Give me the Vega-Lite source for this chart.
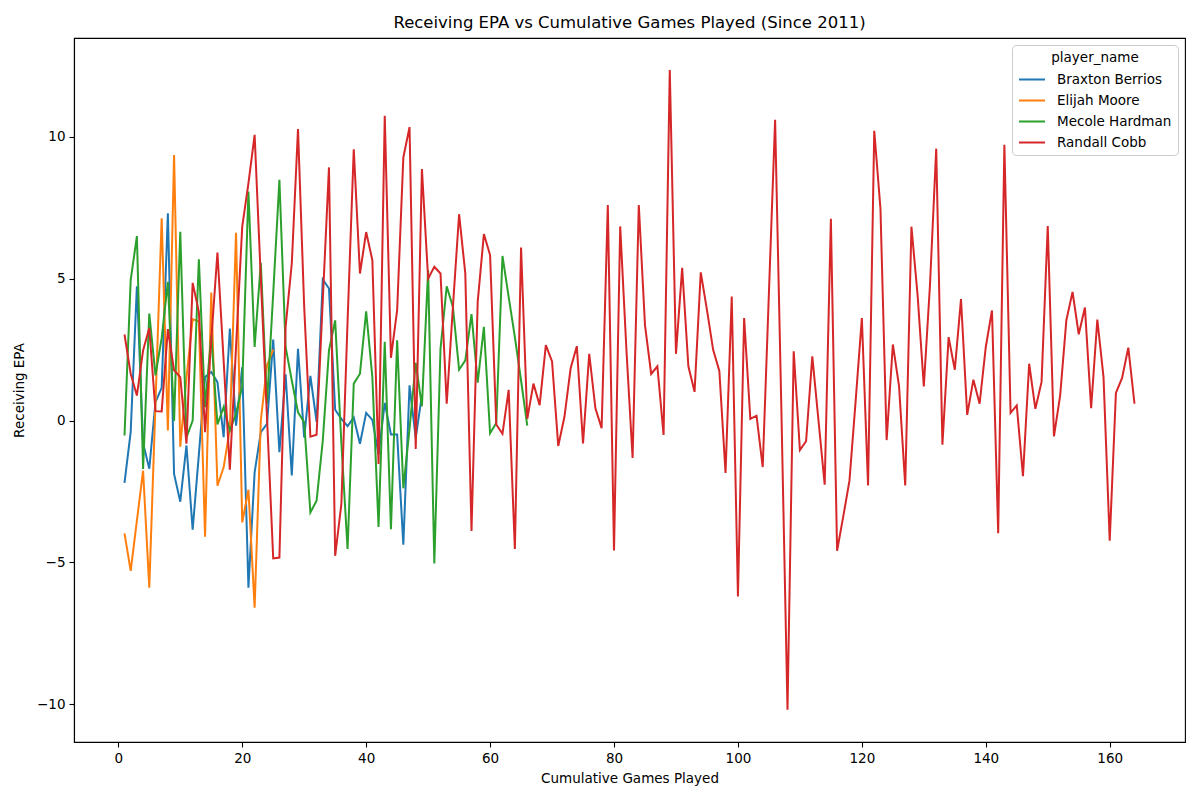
{
  "$schema": "https://vega.github.io/schema/vega-lite/v6.json",
  "autosize": {"type": "none"},
  "width": 1111,
  "height": 704,
  "padding": {"left": 74, "top": 38, "right": 15, "bottom": 58},
  "background": "white",
  "title": {
    "text": "Receiving EPA vs Cumulative Games Played (Since 2011)",
    "font": "DejaVu Sans",
    "fontSize": 16.5,
    "fontWeight": "normal",
    "color": "black",
    "anchor": "middle",
    "offset": 7
  },
  "config": {
    "view": {"stroke": "black", "strokeWidth": 1.1},
    "axis": {
      "labelFont": "DejaVu Sans",
      "labelFontSize": 13.5,
      "labelColor": "black",
      "titleFont": "DejaVu Sans",
      "titleFontSize": 13.5,
      "titleFontWeight": "normal",
      "titleColor": "black",
      "tickColor": "black",
      "tickSize": 5,
      "tickWidth": 1.1,
      "domainColor": "black",
      "domainWidth": 1.1,
      "grid": false,
      "labelPadding": 4
    }
  },
  "data": {
    "values": [
      {"player_name": "Braxton Berrios", "game": 1, "epa": -2.2},
      {"player_name": "Braxton Berrios", "game": 2, "epa": -0.4},
      {"player_name": "Braxton Berrios", "game": 3, "epa": 4.73},
      {"player_name": "Braxton Berrios", "game": 4, "epa": -0.8},
      {"player_name": "Braxton Berrios", "game": 5, "epa": -1.7},
      {"player_name": "Braxton Berrios", "game": 6, "epa": 0.65},
      {"player_name": "Braxton Berrios", "game": 7, "epa": 1.15},
      {"player_name": "Braxton Berrios", "game": 8, "epa": 7.3},
      {"player_name": "Braxton Berrios", "game": 9, "epa": -1.88},
      {"player_name": "Braxton Berrios", "game": 10, "epa": -2.86},
      {"player_name": "Braxton Berrios", "game": 11, "epa": -0.88},
      {"player_name": "Braxton Berrios", "game": 12, "epa": -3.85},
      {"player_name": "Braxton Berrios", "game": 13, "epa": -1.2},
      {"player_name": "Braxton Berrios", "game": 14, "epa": 1.53},
      {"player_name": "Braxton Berrios", "game": 15, "epa": 1.71},
      {"player_name": "Braxton Berrios", "game": 16, "epa": 1.35},
      {"player_name": "Braxton Berrios", "game": 17, "epa": -0.59},
      {"player_name": "Braxton Berrios", "game": 18, "epa": 3.24},
      {"player_name": "Braxton Berrios", "game": 19, "epa": -0.18},
      {"player_name": "Braxton Berrios", "game": 20, "epa": 1.88},
      {"player_name": "Braxton Berrios", "game": 21, "epa": -5.89},
      {"player_name": "Braxton Berrios", "game": 22, "epa": -1.83},
      {"player_name": "Braxton Berrios", "game": 23, "epa": -0.41},
      {"player_name": "Braxton Berrios", "game": 24, "epa": -0.12},
      {"player_name": "Braxton Berrios", "game": 25, "epa": 2.85},
      {"player_name": "Braxton Berrios", "game": 26, "epa": -1.12},
      {"player_name": "Braxton Berrios", "game": 27, "epa": 1.63},
      {"player_name": "Braxton Berrios", "game": 28, "epa": -1.94},
      {"player_name": "Braxton Berrios", "game": 29, "epa": 2.53},
      {"player_name": "Braxton Berrios", "game": 30, "epa": -0.6},
      {"player_name": "Braxton Berrios", "game": 31, "epa": 1.57},
      {"player_name": "Braxton Berrios", "game": 32, "epa": -0.05},
      {"player_name": "Braxton Berrios", "game": 33, "epa": 4.97},
      {"player_name": "Braxton Berrios", "game": 34, "epa": 4.65},
      {"player_name": "Braxton Berrios", "game": 35, "epa": 0.38},
      {"player_name": "Braxton Berrios", "game": 36, "epa": 0.06},
      {"player_name": "Braxton Berrios", "game": 37, "epa": -0.2},
      {"player_name": "Braxton Berrios", "game": 38, "epa": 0.1},
      {"player_name": "Braxton Berrios", "game": 39, "epa": -0.82},
      {"player_name": "Braxton Berrios", "game": 40, "epa": 0.27},
      {"player_name": "Braxton Berrios", "game": 41, "epa": 0.02},
      {"player_name": "Braxton Berrios", "game": 42, "epa": -1.2},
      {"player_name": "Braxton Berrios", "game": 43, "epa": 0.62},
      {"player_name": "Braxton Berrios", "game": 44, "epa": -0.49},
      {"player_name": "Braxton Berrios", "game": 45, "epa": -0.49},
      {"player_name": "Braxton Berrios", "game": 46, "epa": -4.38},
      {"player_name": "Braxton Berrios", "game": 47, "epa": 1.24},
      {"player_name": "Braxton Berrios", "game": 48, "epa": -0.62},
      {"player_name": "Braxton Berrios", "game": 49, "epa": 0.9},
      {"player_name": "Elijah Moore", "game": 1, "epa": -3.98},
      {"player_name": "Elijah Moore", "game": 2, "epa": -5.3},
      {"player_name": "Elijah Moore", "game": 3, "epa": -3.53},
      {"player_name": "Elijah Moore", "game": 4, "epa": -1.77},
      {"player_name": "Elijah Moore", "game": 5, "epa": -5.89},
      {"player_name": "Elijah Moore", "game": 6, "epa": 0.6},
      {"player_name": "Elijah Moore", "game": 7, "epa": 7.13},
      {"player_name": "Elijah Moore", "game": 8, "epa": -0.35},
      {"player_name": "Elijah Moore", "game": 9, "epa": 9.36},
      {"player_name": "Elijah Moore", "game": 10, "epa": -0.92},
      {"player_name": "Elijah Moore", "game": 11, "epa": 1.5},
      {"player_name": "Elijah Moore", "game": 12, "epa": 3.57},
      {"player_name": "Elijah Moore", "game": 13, "epa": 3.5},
      {"player_name": "Elijah Moore", "game": 14, "epa": -4.1},
      {"player_name": "Elijah Moore", "game": 15, "epa": 4.51},
      {"player_name": "Elijah Moore", "game": 16, "epa": -2.3},
      {"player_name": "Elijah Moore", "game": 17, "epa": -1.65},
      {"player_name": "Elijah Moore", "game": 18, "epa": -0.3},
      {"player_name": "Elijah Moore", "game": 19, "epa": 6.62},
      {"player_name": "Elijah Moore", "game": 20, "epa": -3.59},
      {"player_name": "Elijah Moore", "game": 21, "epa": -2.44},
      {"player_name": "Elijah Moore", "game": 22, "epa": -6.6},
      {"player_name": "Elijah Moore", "game": 23, "epa": 0.0},
      {"player_name": "Elijah Moore", "game": 24, "epa": 1.94},
      {"player_name": "Elijah Moore", "game": 25, "epa": 2.5},
      {"player_name": "Mecole Hardman", "game": 1, "epa": -0.53},
      {"player_name": "Mecole Hardman", "game": 2, "epa": 4.95},
      {"player_name": "Mecole Hardman", "game": 3, "epa": 6.5},
      {"player_name": "Mecole Hardman", "game": 4, "epa": -1.71},
      {"player_name": "Mecole Hardman", "game": 5, "epa": 3.77},
      {"player_name": "Mecole Hardman", "game": 6, "epa": 1.59},
      {"player_name": "Mecole Hardman", "game": 7, "epa": 2.9},
      {"player_name": "Mecole Hardman", "game": 8, "epa": 4.89},
      {"player_name": "Mecole Hardman", "game": 9, "epa": -0.02},
      {"player_name": "Mecole Hardman", "game": 10, "epa": 6.65},
      {"player_name": "Mecole Hardman", "game": 11, "epa": -0.6},
      {"player_name": "Mecole Hardman", "game": 12, "epa": 0.0},
      {"player_name": "Mecole Hardman", "game": 13, "epa": 5.68},
      {"player_name": "Mecole Hardman", "game": 14, "epa": 0.47},
      {"player_name": "Mecole Hardman", "game": 15, "epa": 3.0},
      {"player_name": "Mecole Hardman", "game": 16, "epa": -0.14},
      {"player_name": "Mecole Hardman", "game": 17, "epa": 0.47},
      {"player_name": "Mecole Hardman", "game": 18, "epa": -0.35},
      {"player_name": "Mecole Hardman", "game": 19, "epa": 0.24},
      {"player_name": "Mecole Hardman", "game": 20, "epa": 1.2},
      {"player_name": "Mecole Hardman", "game": 21, "epa": 8.07},
      {"player_name": "Mecole Hardman", "game": 22, "epa": 2.59},
      {"player_name": "Mecole Hardman", "game": 23, "epa": 5.56},
      {"player_name": "Mecole Hardman", "game": 24, "epa": 0.6},
      {"player_name": "Mecole Hardman", "game": 25, "epa": 4.48},
      {"player_name": "Mecole Hardman", "game": 26, "epa": 8.48},
      {"player_name": "Mecole Hardman", "game": 27, "epa": 2.59},
      {"player_name": "Mecole Hardman", "game": 28, "epa": 1.41},
      {"player_name": "Mecole Hardman", "game": 29, "epa": 0.29},
      {"player_name": "Mecole Hardman", "game": 30, "epa": -0.06},
      {"player_name": "Mecole Hardman", "game": 31, "epa": -3.24},
      {"player_name": "Mecole Hardman", "game": 32, "epa": -2.83},
      {"player_name": "Mecole Hardman", "game": 33, "epa": -0.71},
      {"player_name": "Mecole Hardman", "game": 34, "epa": 2.47},
      {"player_name": "Mecole Hardman", "game": 35, "epa": 3.53},
      {"player_name": "Mecole Hardman", "game": 36, "epa": -0.8},
      {"player_name": "Mecole Hardman", "game": 37, "epa": -4.53},
      {"player_name": "Mecole Hardman", "game": 38, "epa": 1.3},
      {"player_name": "Mecole Hardman", "game": 39, "epa": 1.65},
      {"player_name": "Mecole Hardman", "game": 40, "epa": 3.85},
      {"player_name": "Mecole Hardman", "game": 41, "epa": 1.53},
      {"player_name": "Mecole Hardman", "game": 42, "epa": -3.75},
      {"player_name": "Mecole Hardman", "game": 43, "epa": 2.77},
      {"player_name": "Mecole Hardman", "game": 44, "epa": -3.83},
      {"player_name": "Mecole Hardman", "game": 45, "epa": 2.83},
      {"player_name": "Mecole Hardman", "game": 46, "epa": -2.39},
      {"player_name": "Mecole Hardman", "game": 47, "epa": -0.3},
      {"player_name": "Mecole Hardman", "game": 48, "epa": 2.03},
      {"player_name": "Mecole Hardman", "game": 49, "epa": 0.5},
      {"player_name": "Mecole Hardman", "game": 50, "epa": 5.3},
      {"player_name": "Mecole Hardman", "game": 51, "epa": -5.04},
      {"player_name": "Mecole Hardman", "game": 52, "epa": 2.53},
      {"player_name": "Mecole Hardman", "game": 53, "epa": 4.73},
      {"player_name": "Mecole Hardman", "game": 54, "epa": 4.0},
      {"player_name": "Mecole Hardman", "game": 55, "epa": 1.79},
      {"player_name": "Mecole Hardman", "game": 56, "epa": 2.12},
      {"player_name": "Mecole Hardman", "game": 57, "epa": 3.75},
      {"player_name": "Mecole Hardman", "game": 58, "epa": 1.33},
      {"player_name": "Mecole Hardman", "game": 59, "epa": 3.3},
      {"player_name": "Mecole Hardman", "game": 60, "epa": -0.45},
      {"player_name": "Mecole Hardman", "game": 61, "epa": -0.09},
      {"player_name": "Mecole Hardman", "game": 62, "epa": 5.8},
      {"player_name": "Mecole Hardman", "game": 63, "epa": 4.36},
      {"player_name": "Mecole Hardman", "game": 64, "epa": 2.94},
      {"player_name": "Mecole Hardman", "game": 65, "epa": 1.41},
      {"player_name": "Mecole Hardman", "game": 66, "epa": -0.18},
      {"player_name": "Randall Cobb", "game": 1, "epa": 3.03},
      {"player_name": "Randall Cobb", "game": 2, "epa": 1.65},
      {"player_name": "Randall Cobb", "game": 3, "epa": 0.88},
      {"player_name": "Randall Cobb", "game": 4, "epa": 2.47},
      {"player_name": "Randall Cobb", "game": 5, "epa": 3.26},
      {"player_name": "Randall Cobb", "game": 6, "epa": 0.33},
      {"player_name": "Randall Cobb", "game": 7, "epa": 0.32},
      {"player_name": "Randall Cobb", "game": 8, "epa": 3.22},
      {"player_name": "Randall Cobb", "game": 9, "epa": 1.77},
      {"player_name": "Randall Cobb", "game": 10, "epa": 1.53},
      {"player_name": "Randall Cobb", "game": 11, "epa": -0.82},
      {"player_name": "Randall Cobb", "game": 12, "epa": 4.85},
      {"player_name": "Randall Cobb", "game": 13, "epa": 3.83},
      {"player_name": "Randall Cobb", "game": 14, "epa": -0.41},
      {"player_name": "Randall Cobb", "game": 15, "epa": 2.83},
      {"player_name": "Randall Cobb", "game": 16, "epa": 5.92},
      {"player_name": "Randall Cobb", "game": 17, "epa": 2.1},
      {"player_name": "Randall Cobb", "game": 18, "epa": -1.73},
      {"player_name": "Randall Cobb", "game": 19, "epa": 2.6},
      {"player_name": "Randall Cobb", "game": 20, "epa": 6.83},
      {"player_name": "Randall Cobb", "game": 21, "epa": 8.36},
      {"player_name": "Randall Cobb", "game": 22, "epa": 10.07},
      {"player_name": "Randall Cobb", "game": 23, "epa": 5.0},
      {"player_name": "Randall Cobb", "game": 24, "epa": 0.1},
      {"player_name": "Randall Cobb", "game": 25, "epa": -4.86},
      {"player_name": "Randall Cobb", "game": 26, "epa": -4.83},
      {"player_name": "Randall Cobb", "game": 27, "epa": 3.3},
      {"player_name": "Randall Cobb", "game": 28, "epa": 5.54},
      {"player_name": "Randall Cobb", "game": 29, "epa": 10.27},
      {"player_name": "Randall Cobb", "game": 30, "epa": 4.0},
      {"player_name": "Randall Cobb", "game": 31, "epa": -0.57},
      {"player_name": "Randall Cobb", "game": 32, "epa": -0.5},
      {"player_name": "Randall Cobb", "game": 33, "epa": 4.24},
      {"player_name": "Randall Cobb", "game": 34, "epa": 8.92},
      {"player_name": "Randall Cobb", "game": 35, "epa": -4.77},
      {"player_name": "Randall Cobb", "game": 36, "epa": -2.94},
      {"player_name": "Randall Cobb", "game": 37, "epa": 3.5},
      {"player_name": "Randall Cobb", "game": 38, "epa": 9.56},
      {"player_name": "Randall Cobb", "game": 39, "epa": 5.18},
      {"player_name": "Randall Cobb", "game": 40, "epa": 6.64},
      {"player_name": "Randall Cobb", "game": 41, "epa": 5.65},
      {"player_name": "Randall Cobb", "game": 42, "epa": -1.53},
      {"player_name": "Randall Cobb", "game": 43, "epa": 10.74},
      {"player_name": "Randall Cobb", "game": 44, "epa": 2.21},
      {"player_name": "Randall Cobb", "game": 45, "epa": 3.89},
      {"player_name": "Randall Cobb", "game": 46, "epa": 9.27},
      {"player_name": "Randall Cobb", "game": 47, "epa": 10.34},
      {"player_name": "Randall Cobb", "game": 48, "epa": -1.0},
      {"player_name": "Randall Cobb", "game": 49, "epa": 8.86},
      {"player_name": "Randall Cobb", "game": 50, "epa": 5.0},
      {"player_name": "Randall Cobb", "game": 51, "epa": 5.42},
      {"player_name": "Randall Cobb", "game": 52, "epa": 5.18},
      {"player_name": "Randall Cobb", "game": 53, "epa": 0.59},
      {"player_name": "Randall Cobb", "game": 54, "epa": 4.0},
      {"player_name": "Randall Cobb", "game": 55, "epa": 7.27},
      {"player_name": "Randall Cobb", "game": 56, "epa": 5.18},
      {"player_name": "Randall Cobb", "game": 57, "epa": -3.89},
      {"player_name": "Randall Cobb", "game": 58, "epa": 4.18},
      {"player_name": "Randall Cobb", "game": 59, "epa": 6.57},
      {"player_name": "Randall Cobb", "game": 60, "epa": 5.83},
      {"player_name": "Randall Cobb", "game": 61, "epa": -0.14},
      {"player_name": "Randall Cobb", "game": 62, "epa": -0.47},
      {"player_name": "Randall Cobb", "game": 63, "epa": 1.08},
      {"player_name": "Randall Cobb", "game": 64, "epa": -4.53},
      {"player_name": "Randall Cobb", "game": 65, "epa": 6.1},
      {"player_name": "Randall Cobb", "game": 66, "epa": 0.06},
      {"player_name": "Randall Cobb", "game": 67, "epa": 1.3},
      {"player_name": "Randall Cobb", "game": 68, "epa": 0.54},
      {"player_name": "Randall Cobb", "game": 69, "epa": 2.66},
      {"player_name": "Randall Cobb", "game": 70, "epa": 2.08},
      {"player_name": "Randall Cobb", "game": 71, "epa": -0.9},
      {"player_name": "Randall Cobb", "game": 72, "epa": 0.13},
      {"player_name": "Randall Cobb", "game": 73, "epa": 1.84},
      {"player_name": "Randall Cobb", "game": 74, "epa": 2.62},
      {"player_name": "Randall Cobb", "game": 75, "epa": -0.81},
      {"player_name": "Randall Cobb", "game": 76, "epa": 2.35},
      {"player_name": "Randall Cobb", "game": 77, "epa": 0.43},
      {"player_name": "Randall Cobb", "game": 78, "epa": -0.27},
      {"player_name": "Randall Cobb", "game": 79, "epa": 7.59},
      {"player_name": "Randall Cobb", "game": 80, "epa": -4.58},
      {"player_name": "Randall Cobb", "game": 81, "epa": 6.84},
      {"player_name": "Randall Cobb", "game": 82, "epa": 2.5},
      {"player_name": "Randall Cobb", "game": 83, "epa": -1.32},
      {"player_name": "Randall Cobb", "game": 84, "epa": 7.59},
      {"player_name": "Randall Cobb", "game": 85, "epa": 3.36},
      {"player_name": "Randall Cobb", "game": 86, "epa": 1.64},
      {"player_name": "Randall Cobb", "game": 87, "epa": 1.91},
      {"player_name": "Randall Cobb", "game": 88, "epa": -0.51},
      {"player_name": "Randall Cobb", "game": 89, "epa": 12.35},
      {"player_name": "Randall Cobb", "game": 90, "epa": 2.35},
      {"player_name": "Randall Cobb", "game": 91, "epa": 5.38},
      {"player_name": "Randall Cobb", "game": 92, "epa": 1.91},
      {"player_name": "Randall Cobb", "game": 93, "epa": 1.01},
      {"player_name": "Randall Cobb", "game": 94, "epa": 5.22},
      {"player_name": "Randall Cobb", "game": 95, "epa": 3.9},
      {"player_name": "Randall Cobb", "game": 96, "epa": 2.49},
      {"player_name": "Randall Cobb", "game": 97, "epa": 1.75},
      {"player_name": "Randall Cobb", "game": 98, "epa": -1.85},
      {"player_name": "Randall Cobb", "game": 99, "epa": 4.37},
      {"player_name": "Randall Cobb", "game": 100, "epa": -6.2},
      {"player_name": "Randall Cobb", "game": 101, "epa": 3.61},
      {"player_name": "Randall Cobb", "game": 102, "epa": 0.06},
      {"player_name": "Randall Cobb", "game": 103, "epa": 0.17},
      {"player_name": "Randall Cobb", "game": 104, "epa": -1.64},
      {"player_name": "Randall Cobb", "game": 105, "epa": 4.5},
      {"player_name": "Randall Cobb", "game": 106, "epa": 10.6},
      {"player_name": "Randall Cobb", "game": 107, "epa": 0.5},
      {"player_name": "Randall Cobb", "game": 108, "epa": -10.19},
      {"player_name": "Randall Cobb", "game": 109, "epa": 2.44},
      {"player_name": "Randall Cobb", "game": 110, "epa": -1.04},
      {"player_name": "Randall Cobb", "game": 111, "epa": -0.73},
      {"player_name": "Randall Cobb", "game": 112, "epa": 2.26},
      {"player_name": "Randall Cobb", "game": 113, "epa": 0.0},
      {"player_name": "Randall Cobb", "game": 114, "epa": -2.26},
      {"player_name": "Randall Cobb", "game": 115, "epa": 7.11},
      {"player_name": "Randall Cobb", "game": 116, "epa": -4.59},
      {"player_name": "Randall Cobb", "game": 117, "epa": -3.38},
      {"player_name": "Randall Cobb", "game": 118, "epa": -2.12},
      {"player_name": "Randall Cobb", "game": 119, "epa": 0.7},
      {"player_name": "Randall Cobb", "game": 120, "epa": 3.61},
      {"player_name": "Randall Cobb", "game": 121, "epa": -2.29},
      {"player_name": "Randall Cobb", "game": 122, "epa": 10.21},
      {"player_name": "Randall Cobb", "game": 123, "epa": 7.47},
      {"player_name": "Randall Cobb", "game": 124, "epa": -0.69},
      {"player_name": "Randall Cobb", "game": 125, "epa": 2.68},
      {"player_name": "Randall Cobb", "game": 126, "epa": 1.21},
      {"player_name": "Randall Cobb", "game": 127, "epa": -2.29},
      {"player_name": "Randall Cobb", "game": 128, "epa": 6.83},
      {"player_name": "Randall Cobb", "game": 129, "epa": 4.4},
      {"player_name": "Randall Cobb", "game": 130, "epa": 1.2},
      {"player_name": "Randall Cobb", "game": 131, "epa": 4.8},
      {"player_name": "Randall Cobb", "game": 132, "epa": 9.58},
      {"player_name": "Randall Cobb", "game": 133, "epa": -0.85},
      {"player_name": "Randall Cobb", "game": 134, "epa": 2.94},
      {"player_name": "Randall Cobb", "game": 135, "epa": 1.79},
      {"player_name": "Randall Cobb", "game": 136, "epa": 4.28},
      {"player_name": "Randall Cobb", "game": 137, "epa": 0.2},
      {"player_name": "Randall Cobb", "game": 138, "epa": 1.44},
      {"player_name": "Randall Cobb", "game": 139, "epa": 0.59},
      {"player_name": "Randall Cobb", "game": 140, "epa": 2.59},
      {"player_name": "Randall Cobb", "game": 141, "epa": 3.88},
      {"player_name": "Randall Cobb", "game": 142, "epa": -3.97},
      {"player_name": "Randall Cobb", "game": 143, "epa": 9.72},
      {"player_name": "Randall Cobb", "game": 144, "epa": 0.27},
      {"player_name": "Randall Cobb", "game": 145, "epa": 0.53},
      {"player_name": "Randall Cobb", "game": 146, "epa": -1.96},
      {"player_name": "Randall Cobb", "game": 147, "epa": 2.0},
      {"player_name": "Randall Cobb", "game": 148, "epa": 0.41},
      {"player_name": "Randall Cobb", "game": 149, "epa": 1.36},
      {"player_name": "Randall Cobb", "game": 150, "epa": 6.85},
      {"player_name": "Randall Cobb", "game": 151, "epa": -0.56},
      {"player_name": "Randall Cobb", "game": 152, "epa": 0.88},
      {"player_name": "Randall Cobb", "game": 153, "epa": 3.53},
      {"player_name": "Randall Cobb", "game": 154, "epa": 4.53},
      {"player_name": "Randall Cobb", "game": 155, "epa": 3.04},
      {"player_name": "Randall Cobb", "game": 156, "epa": 3.98},
      {"player_name": "Randall Cobb", "game": 157, "epa": 0.43},
      {"player_name": "Randall Cobb", "game": 158, "epa": 3.56},
      {"player_name": "Randall Cobb", "game": 159, "epa": 1.53},
      {"player_name": "Randall Cobb", "game": 160, "epa": -4.24},
      {"player_name": "Randall Cobb", "game": 161, "epa": 0.97},
      {"player_name": "Randall Cobb", "game": 162, "epa": 1.5},
      {"player_name": "Randall Cobb", "game": 163, "epa": 2.57},
      {"player_name": "Randall Cobb", "game": 164, "epa": 0.59}
    ]
  },
  "mark": {"type": "line", "strokeWidth": 2, "clip": true},
  "encoding": {
    "x": {
      "field": "game",
      "type": "quantitative",
      "scale": {"domain": [-7.15, 172.15], "nice": false, "zero": false},
      "axis": {
        "title": "Cumulative Games Played",
        "values": [0, 20, 40, 60, 80, 100, 120, 140, 160],
        "format": "d",
        "titlePadding": 7
      }
    },
    "y": {
      "field": "epa",
      "type": "quantitative",
      "scale": {"domain": [-11.33, 13.48], "nice": false, "zero": false},
      "axis": {
        "title": "Receiving EPA",
        "values": [-10, -5, 0, 5, 10],
        "format": "d",
        "titlePadding": 10
      }
    },
    "color": {
      "field": "player_name",
      "type": "nominal",
      "scale": {
        "domain": ["Braxton Berrios", "Elijah Moore", "Mecole Hardman", "Randall Cobb"],
        "range": ["#1f77b4", "#ff7f0e", "#2ca02c", "#d62728"]
      },
      "legend": {
        "title": "player_name",
        "orient": "top-right",
        "offset": 7,
        "padding": 6,
        "fillColor": "white",
        "strokeColor": "#cccccc",
        "cornerRadius": 4,
        "titleFont": "DejaVu Sans",
        "titleFontSize": 13.5,
        "titleFontWeight": "normal",
        "titleColor": "black",
        "titleAnchor": "middle",
        "titlePadding": 1,
        "labelFont": "DejaVu Sans",
        "labelFontSize": 13.5,
        "labelColor": "black",
        "labelOffset": 11,
        "symbolType": "stroke",
        "symbolSize": 676,
        "symbolStrokeWidth": 2,
        "rowPadding": -5
      }
    }
  }
}
